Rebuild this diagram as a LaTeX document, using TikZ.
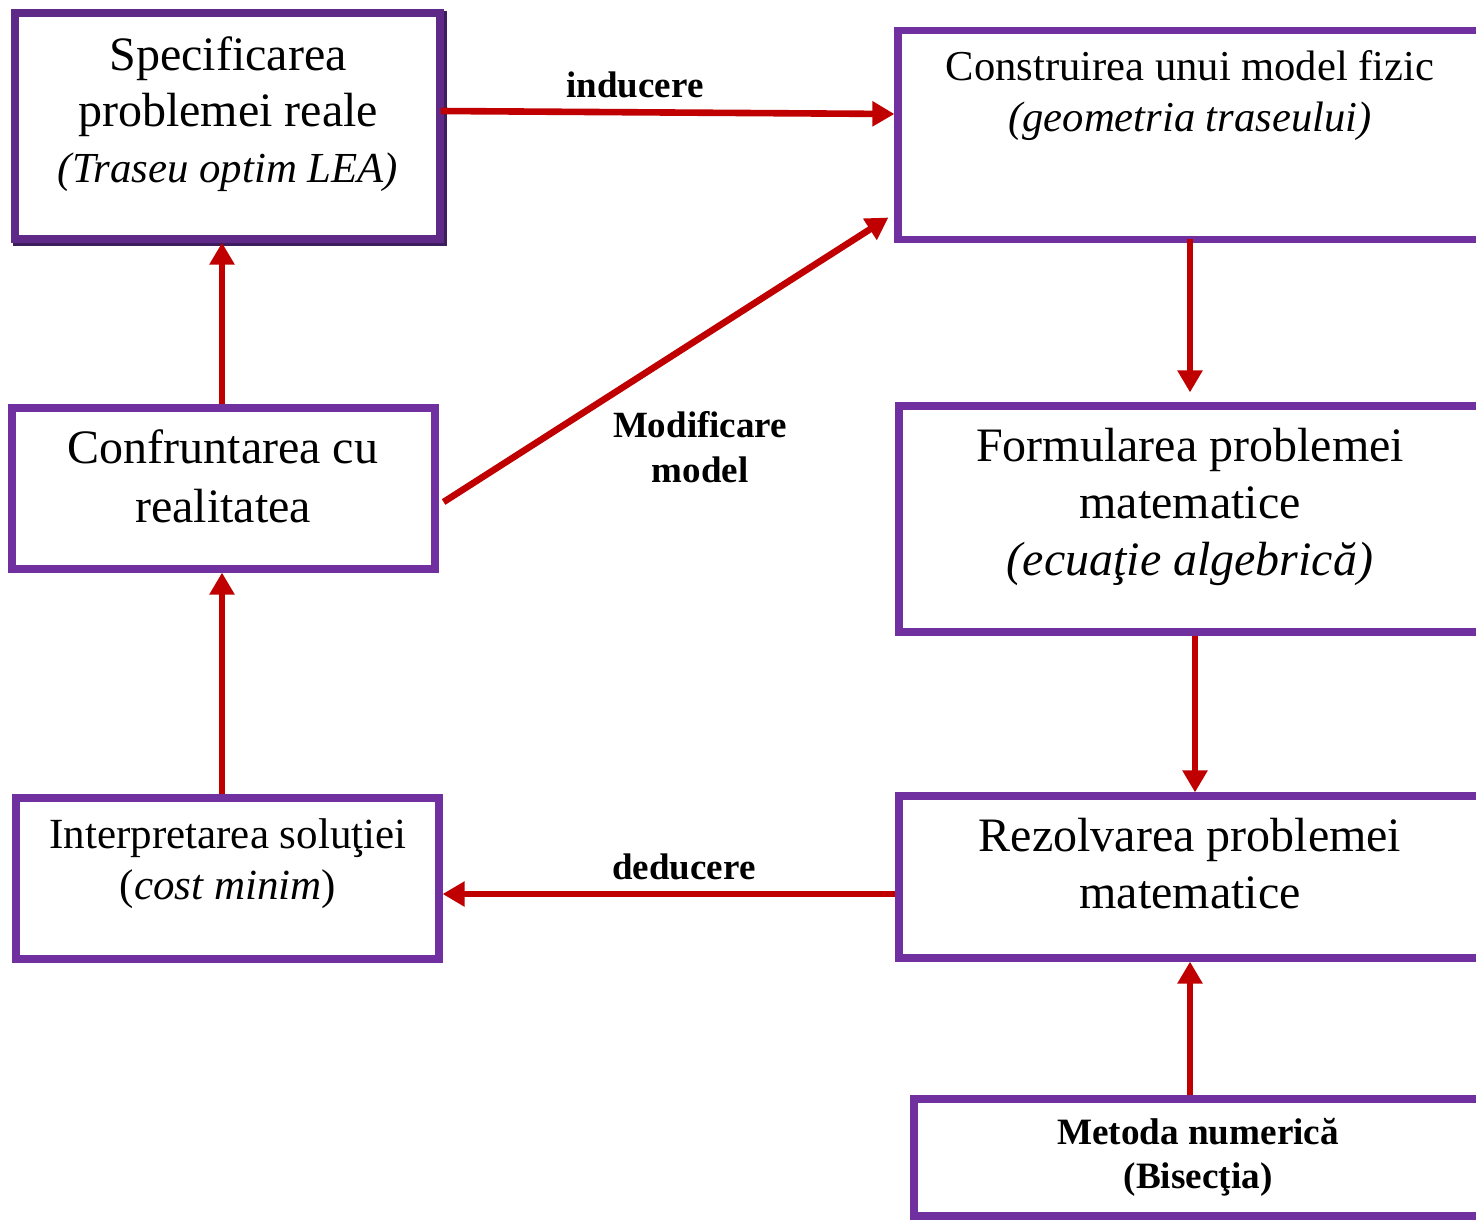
\documentclass[tikz,border=0pt]{standalone}
\usepackage{fontspec}
\setmainfont{Liberation Serif}
\usetikzlibrary{arrows.meta}
\definecolor{boxpurple}{HTML}{7030A0}
\definecolor{darkpurple}{HTML}{3E1D5E}
\definecolor{arrred}{HTML}{C00000}
\begin{document}
\begin{tikzpicture}[x=0.5pt,y=-0.5pt,
  box/.style={draw=boxpurple, line width=3.6pt, fill=white, inner sep=0pt},
  txt/.style={align=center, inner sep=0pt, text=black},
  lbl/.style={align=center, inner sep=0pt, font=\fontsize{18.5}{22.5}\selectfont\bfseries},
  arr/.style={draw=arrred, line width=3.3pt, -{Triangle[length=11pt,width=12pt]}}
]
\useasboundingbox (0,0) rectangle (1476,1220);
\fill[white] (0,0) rectangle (1476,1220);

% boxes
\node[box, draw=boxpurple!85!black, minimum width=212.5pt, minimum height=113pt] (b1) at (227.5,126) {};
\draw[darkpurple, line width=1.6pt] ([xshift=1pt,yshift=-1pt]b1.north east) -- ([xshift=1pt,yshift=-1pt]b1.south east) -- ([xshift=1pt,yshift=-1pt]b1.south west);
\node[box, minimum width=292pt, minimum height=104.5pt] (b2) at (1190,135) {};
\node[box, minimum width=291pt, minimum height=113pt] (b3) at (1190,519) {};
\node[box, minimum width=291pt, minimum height=81pt] (b4) at (1190,877) {};
\node[box, minimum width=284pt, minimum height=58.5pt] (b5) at (1198,1157.5) {};
\node[box, minimum width=211.5pt, minimum height=80.5pt] (b6) at (223.5,488.5) {};
\node[box, minimum width=211.5pt, minimum height=80.5pt] (b7) at (227.5,878.5) {};

% texts
\node[txt, font=\fontsize{24}{28}\selectfont] (t1) at (228,114)
  {Specificarea\\problemei reale\\{\fontsize{21.4}{28}\selectfont\textit{(Traseu optim LEA)}}};
\node[txt, font=\fontsize{21.3}{25.5}\selectfont] (t2) at (1190,96)
  {Construirea unui model fizic\\\textit{(geometria traseului)}};
\node[txt, font=\fontsize{24}{28.5}\selectfont] (t3) at (1190,507)
  {Formularea problemei\\matematice\\\textit{(ecuaţie algebrică)}};
\node[txt, font=\fontsize{24}{28.5}\selectfont] (t4) at (1190,864)
  {Rezolvarea problemei\\matematice};
\node[txt, font=\fontsize{18.6}{22}\selectfont\bfseries] (t5) at (1198,1157)
  {Metoda numerică\\(Bisecţia)};
\node[txt, font=\fontsize{24}{29.5}\selectfont] (t6) at (223,476)
  {Confruntarea cu\\realitatea};
\node[txt, font=\fontsize{21.5}{25.5}\selectfont] (t7) at (228,864)
  {Interpretarea soluţiei\\(\textit{cost minim})};

% labels
\node[lbl] (l1) at (635,85) {inducere};
\node[lbl] (l2) at (684,867) {deducere};
\node[lbl] (l3) at (700,447) {Modificare\\model};

% connectors
\draw[arr] ([xshift=-1.5pt,yshift=7.5pt]b1.east) -- ([yshift=10.5pt]b2.west);
\draw[arr, shorten >=5pt] ([yshift=2pt]b2.south) -- (b3.north);
\draw[arr] ([xshift=2.5pt]b3.south) -- ([xshift=2.5pt]b4.north);
\draw[arr] ([xshift=-4pt]b5.north) -- (b4.south);
\draw[arr] ([yshift=-8.5pt]b4.west) -- ([yshift=-7.75pt]b7.east);
\draw[arr] ([xshift=-2.75pt]b7.north) -- ([xshift=-0.75pt]b6.south);
\draw[arr] ([xshift=-0.75pt]b6.north) -- ([xshift=-2.75pt]b1.south);
\draw[arr] ([xshift=2.5pt,yshift=-6.75pt]b6.east) -- ([xshift=-3pt,yshift=-41.25pt]b2.west);
\end{tikzpicture}
\end{document}
